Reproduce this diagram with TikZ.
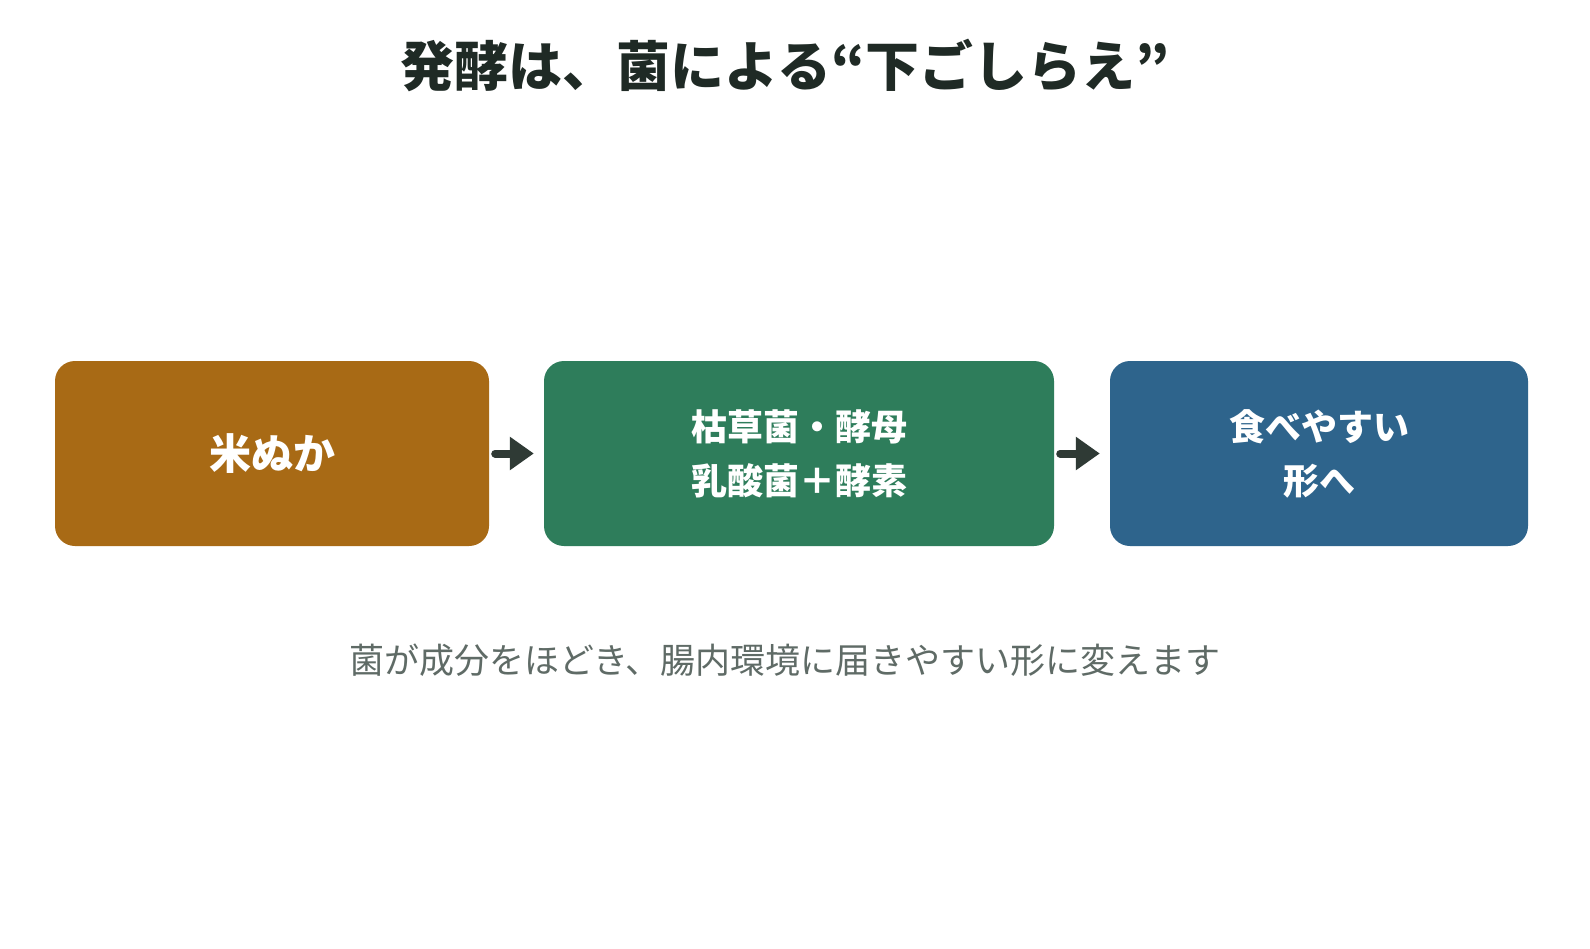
\documentclass[tikz,border=0pt]{standalone}
\usepackage{fontspec}
\setmainfont{Noto Sans CJK JP}
\usetikzlibrary{arrows.meta}
\definecolor{cbrown}{HTML}{A86A15}
\definecolor{cgreen}{HTML}{2E7D5B}
\definecolor{cblue}{HTML}{2E648C}
\definecolor{cdark}{HTML}{2F3A35}
\definecolor{ctitle}{HTML}{1F2A25}
\definecolor{ccap}{HTML}{5F6B66}
\begin{document}
\begin{tikzpicture}[x=1pt,y=-1pt,
 box/.style={rounded corners=20pt,inner sep=0pt,text=white,font=\fontsize{36}{54}\selectfont\bfseries,align=center},
 arr/.style={draw=cdark,line width=8pt,line cap=round,-{Triangle[length=24pt,width=32pt]}}]
\useasboundingbox[fill=white] (0,0) rectangle (1590,948);
\node[font=\fontsize{54}{64}\selectfont\bfseries,text=ctitle] (title) at (785,65) {発酵は、菌による“下ごしらえ”};
\node[box,fill=cbrown,minimum width=434pt,minimum height=185pt,font=\fontsize{42}{54}\selectfont\bfseries] (a) at (272,453.5) {米ぬか};
\node[box,fill=cgreen,minimum width=510pt,minimum height=185pt] (b) at (799,453.5) {枯草菌・酵母\\乳酸菌＋酵素};
\node[box,fill=cblue,minimum width=418pt,minimum height=185pt] (c) at (1319,453.5) {食べやすい\\形へ};
\draw[arr] ([xshift=6pt]a.east) -- ([xshift=-10pt]b.west);
\draw[arr] ([xshift=6pt]b.east) -- ([xshift=-10pt]c.west);
\node[font=\fontsize{35}{40}\selectfont,text=ccap] (cap) at (785,660) {菌が成分をほどき、腸内環境に届きやすい形に変えます};
\end{tikzpicture}
\end{document}
